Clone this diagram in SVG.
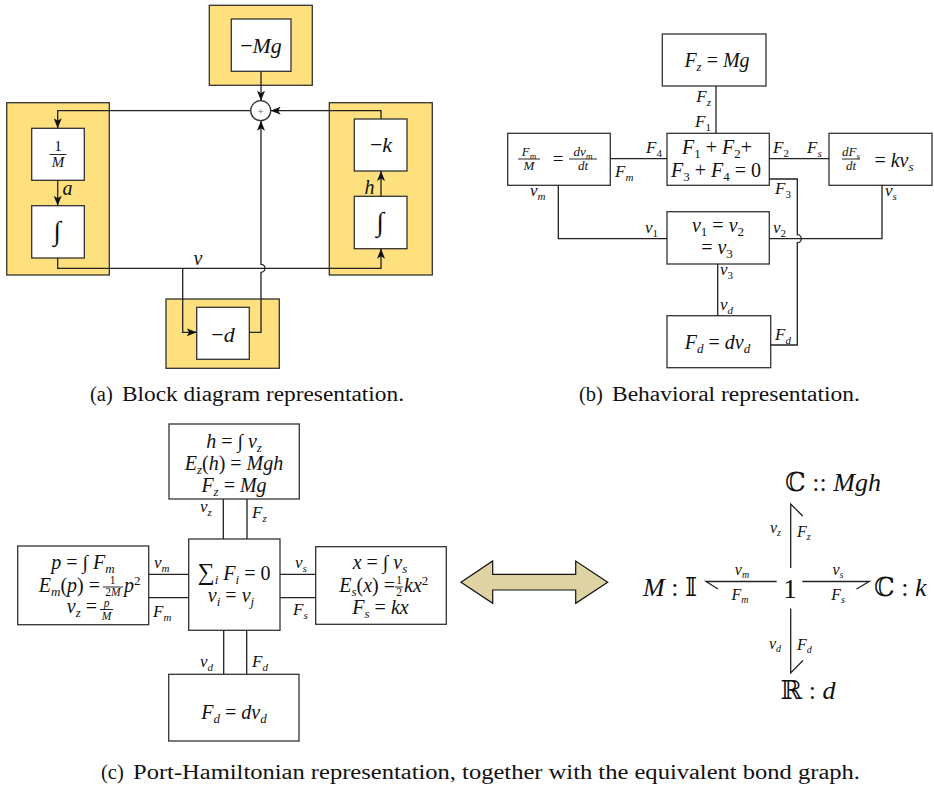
<svg xmlns="http://www.w3.org/2000/svg" width="934" height="791" viewBox="0 0 934 791" font-family="'Liberation Serif', 'DejaVu Serif', serif">
<defs>
<style>
.yel{fill:#FFE07E;stroke:#333;stroke-width:1.3}
.box{fill:#fff;stroke:#333;stroke-width:1.3}
.ln{fill:none;stroke:#222;stroke-width:1.3}
text{font-family:"Liberation Serif","DejaVu Serif",serif;fill:#111}
.m{font-style:italic}
.u{font-style:normal}
.bb{font-family:"DejaVu Serif","DejaVu Sans",serif;font-style:normal;font-weight:normal}
.f20{font-size:20px}
.f17{font-size:17px}
.cap{font-family:"Liberation Serif",serif;font-size:20.5px}
.fl{stroke:#111;stroke-width:0.9}
</style>
<marker id="ah" viewBox="0 0 10 8" refX="10" refY="4" markerWidth="10" markerHeight="8" markerUnits="userSpaceOnUse" orient="auto">
<path d="M0,0 L10,4 L0,8 L2.5,4 Z" fill="#111"/>
</marker>
</defs>
<rect x="0" y="0" width="934" height="791" fill="#fff"/>

<!-- (a) Block diagram -->
<g id="a-mg">
<rect class="yel" x="209.3" y="5.3" width="103" height="80"/>
<rect class="box" x="231.3" y="19" width="59.7" height="52.3"/>
<text x="261" y="52.5" text-anchor="middle" font-size="22" class="m"><tspan class="u">−</tspan>Mg</text>
</g>
<g id="a-sum">
<circle cx="260.7" cy="110.7" r="10" class="box"/>
<text x="260.7" y="114.6" font-size="11" text-anchor="middle" style="fill:#666">+</text>
</g>
<g id="a-left">
<rect class="yel" x="6.7" y="102.7" width="102.6" height="172.3"/>
<g id="a-invM">
<rect class="box" x="31.7" y="128.3" width="52.6" height="52"/>
<text x="58" y="150.5" font-size="15" text-anchor="middle">1</text>
<line x1="49.5" y1="154.5" x2="66.5" y2="154.5" class="fl"/>
<text x="58" y="167" font-size="15" text-anchor="middle" class="m">M</text>
</g>
<g id="a-int1">
<rect class="box" x="31.7" y="205.7" width="52.6" height="52.3"/>
<text x="57" y="240" font-size="27" text-anchor="middle">∫</text>
</g>
</g>
<g id="a-right">
<rect class="yel" x="329.3" y="102.7" width="103" height="172.3"/>
<g id="a-k">
<rect class="box" x="354.3" y="119" width="52.7" height="52"/>
<text x="381" y="152" font-size="22" text-anchor="middle" class="m"><tspan class="u">−</tspan>k</text>
</g>
<g id="a-int2">
<rect class="box" x="354.3" y="196.3" width="52.7" height="52.4"/>
<text x="380" y="231" font-size="27" text-anchor="middle">∫</text>
</g>
</g>
<g id="a-d">
<rect class="yel" x="166" y="299" width="113.3" height="69.3"/>
<rect class="box" x="196.7" y="307.3" width="52.6" height="52"/>
<text x="223" y="342" font-size="22" text-anchor="middle" class="m"><tspan class="u">−</tspan>d</text>
</g>
<g id="a-connectors" class="ln">
<path d="M261,71.3 V100.7" marker-end="url(#ah)"/>
<path d="M250.7,110.7 H57.7 V128.3" marker-end="url(#ah)"/>
<path d="M57.7,180.3 V205.7" marker-end="url(#ah)"/>
<path d="M57.7,258 V268.3 H381 V248.7" marker-end="url(#ah)"/>
<path d="M381,196.3 V171" marker-end="url(#ah)"/>
<path d="M381,119 V110.7 H270.7" marker-end="url(#ah)"/>
<path d="M182.7,268.3 V332.3 H196.7" marker-end="url(#ah)"/>
<path d="M249.3,332.3 H261 V272.3 A4,4 0 0 0 261,264.3 V120.7" marker-end="url(#ah)"/>
</g>
<g id="a-labels" font-size="20" class="m">
<text x="62.5" y="194.5" class="m">a</text>
<text x="364.5" y="193.5" class="m">h</text>
<text x="193.5" y="265" class="m">v</text>
</g>
<g id="cap-a" class="cap">
<text x="90" y="401">(a)</text>
<text x="122" y="401" textLength="282" lengthAdjust="spacingAndGlyphs">Block diagram representation.</text>
</g>

<!-- (b) Behavioral -->
<g id="b-fz">
<rect class="box" x="662.3" y="34" width="103.7" height="52"/>
<text x="717" y="67" text-anchor="middle" class="m f20">F<tspan font-size="13" baseline-shift="-4">z</tspan> <tspan class="u">=</tspan> Mg</text>
</g>
<g id="b-sum">
<rect class="box" x="667" y="133.3" width="102.3" height="52"/>
<text x="717" y="153.5" text-anchor="middle" class="m f20">F<tspan class="u" font-size="13" baseline-shift="-4">1</tspan><tspan class="u"> + </tspan>F<tspan class="u" font-size="13" baseline-shift="-4">2</tspan><tspan class="u">+</tspan></text>
<text x="716" y="177" text-anchor="middle" class="m f20">F<tspan class="u" font-size="13" baseline-shift="-4">3</tspan><tspan class="u"> + </tspan>F<tspan class="u" font-size="13" baseline-shift="-4">4</tspan><tspan class="u"> = 0</tspan></text>
</g>
<g id="b-mass">
<rect class="box" x="507.7" y="133.3" width="102.6" height="52"/>
<text x="529" y="155.5" text-anchor="middle" class="m" font-size="13">F<tspan font-size="9" baseline-shift="-3">m</tspan></text>
<line x1="518" y1="159" x2="540" y2="159" class="fl"/>
<text x="529" y="170" text-anchor="middle" class="m" font-size="13">M</text>
<text x="558" y="165" text-anchor="middle" font-size="19">=</text>
<text x="583" y="155.5" text-anchor="middle" class="m" font-size="13">dv<tspan font-size="9" baseline-shift="-3">m</tspan></text>
<line x1="569" y1="159" x2="597" y2="159" class="fl"/>
<text x="583" y="170" text-anchor="middle" class="m" font-size="13">dt</text>
</g>
<g id="b-spring">
<rect class="box" x="829" y="133.3" width="103" height="52"/>
<text x="851" y="155.5" text-anchor="middle" class="m" font-size="13">dF<tspan font-size="9" baseline-shift="-3">s</tspan></text>
<line x1="842" y1="159" x2="860" y2="159" class="fl"/>
<text x="851" y="170" text-anchor="middle" class="m" font-size="13">dt</text>
<text x="894" y="166.5" text-anchor="middle" class="m f20"><tspan class="u">=</tspan> kv<tspan font-size="13" baseline-shift="-4">s</tspan></text>
</g>
<g id="b-vel">
<rect class="box" x="667" y="211.7" width="102.3" height="52.3"/>
<text x="718" y="232" text-anchor="middle" class="m f20">v<tspan class="u" font-size="13" baseline-shift="-4">1</tspan><tspan class="u"> = </tspan>v<tspan class="u" font-size="13" baseline-shift="-4">2</tspan></text>
<text x="717" y="254" text-anchor="middle" class="m f20"><tspan class="u">= </tspan>v<tspan class="u" font-size="13" baseline-shift="-4">3</tspan></text>
</g>
<g id="b-damper">
<rect class="box" x="667" y="315.7" width="103.7" height="52"/>
<text x="717.5" y="348.5" text-anchor="middle" class="m f20">F<tspan font-size="13" baseline-shift="-4">d</tspan><tspan class="u"> = </tspan>dv<tspan font-size="13" baseline-shift="-4">d</tspan></text>
</g>
<g id="b-connectors" class="ln">
<path d="M716,86 V133.3"/>
<path d="M610.3,158.7 H667"/>
<path d="M769.3,158.7 H829"/>
<path d="M769.3,179 H797.3 V234.7 A4,4 0 0 1 797.3,242.7 V345 H770.7"/>
<path d="M558.3,185.3 V238.7 H667"/>
<path d="M882,185.3 V238.7 H769.3"/>
<path d="M717.7,264 V315.7"/>
</g>
<g id="b-labels" class="m f17">
<text x="711" y="102" text-anchor="end">F<tspan font-size="11" baseline-shift="-4">z</tspan></text>
<text x="711" y="126.5" text-anchor="end">F<tspan class="u" font-size="11" baseline-shift="-4">1</tspan></text>
<text x="662" y="153.3" text-anchor="end">F<tspan class="u" font-size="11" baseline-shift="-4">4</tspan></text>
<text x="615" y="176.7">F<tspan font-size="11" baseline-shift="-4">m</tspan></text>
<text x="773" y="153.3">F<tspan class="u" font-size="11" baseline-shift="-4">2</tspan></text>
<text x="807" y="153.3">F<tspan font-size="11" baseline-shift="-4">s</tspan></text>
<text x="775" y="193.5">F<tspan class="u" font-size="11" baseline-shift="-4">3</tspan></text>
<text x="530" y="196">v<tspan font-size="11" baseline-shift="-4">m</tspan></text>
<text x="885" y="196">v<tspan font-size="11" baseline-shift="-4">s</tspan></text>
<text x="645" y="232.5">v<tspan class="u" font-size="11" baseline-shift="-4">1</tspan></text>
<text x="773" y="232.5">v<tspan class="u" font-size="11" baseline-shift="-4">2</tspan></text>
<text x="720" y="275">v<tspan class="u" font-size="11" baseline-shift="-4">3</tspan></text>
<text x="720" y="310">v<tspan font-size="11" baseline-shift="-4">d</tspan></text>
<text x="775" y="340">F<tspan font-size="11" baseline-shift="-4">d</tspan></text>
</g>
<g id="cap-b" class="cap">
<text x="579" y="401">(b)</text>
<text x="612" y="401" textLength="248" lengthAdjust="spacingAndGlyphs">Behavioral representation.</text>
</g>

<!-- (c) Port-Hamiltonian -->
<g id="c-top">
<rect class="box" x="169" y="424" width="130.3" height="75"/>
<text x="234" y="448" text-anchor="middle" class="m f20">h <tspan class="u">=</tspan> <tspan class="u">∫</tspan> v<tspan font-size="13" baseline-shift="-4">z</tspan></text>
<text x="234" y="470" text-anchor="middle" class="m f20">E<tspan font-size="13" baseline-shift="-4">z</tspan><tspan class="u">(</tspan>h<tspan class="u">) = </tspan>Mgh</text>
<text x="234" y="492" text-anchor="middle" class="m f20">F<tspan font-size="13" baseline-shift="-4">z</tspan><tspan class="u"> = </tspan>Mg</text>
</g>
<g id="c-center">
<rect class="box" x="188.7" y="539" width="91.3" height="91.3"/>
<text x="234" y="580" text-anchor="middle" class="m f20"><tspan class="u" font-size="24">∑</tspan><tspan font-size="13" baseline-shift="-4">i</tspan> F<tspan font-size="13" baseline-shift="-4">i</tspan><tspan class="u"> = 0</tspan></text>
<text x="231" y="602" text-anchor="middle" class="m f20">v<tspan font-size="13" baseline-shift="-4">i</tspan><tspan class="u"> = </tspan>v<tspan font-size="13" baseline-shift="-4">j</tspan></text>
</g>
<g id="c-left">
<rect class="box" x="17.7" y="546" width="131" height="78.7"/>
<text x="83" y="569" text-anchor="middle" class="m f20">p <tspan class="u">=</tspan> <tspan class="u">∫</tspan> F<tspan font-size="13" baseline-shift="-4">m</tspan></text>
<text x="100" y="591.5" text-anchor="end" class="m f20">E<tspan font-size="13" baseline-shift="-4">m</tspan><tspan class="u">(</tspan>p<tspan class="u">) =</tspan></text>
<text x="112.5" y="583.5" text-anchor="middle" font-size="11.5">1</text>
<line x1="103" y1="587" x2="123" y2="587" class="fl"/>
<text x="113" y="596" text-anchor="middle" font-size="11.5" class="m"><tspan class="u">2</tspan>M</text>
<text x="124" y="591.5" class="m f20">p<tspan class="u" font-size="13" baseline-shift="7">2</tspan></text>
<text x="97" y="613" text-anchor="end" class="m f20">v<tspan font-size="13" baseline-shift="-4">z</tspan><tspan class="u"> =</tspan></text>
<text x="106.5" y="606.5" text-anchor="middle" font-size="11.5" class="m">p</text>
<line x1="100" y1="609.5" x2="113" y2="609.5" class="fl"/>
<text x="106.5" y="620" text-anchor="middle" font-size="11.5" class="m">M</text>
</g>
<g id="c-right">
<rect class="box" x="315.7" y="546.7" width="130.6" height="77.6"/>
<text x="380" y="569" text-anchor="middle" class="m f20">x <tspan class="u">=</tspan> <tspan class="u">∫</tspan> v<tspan font-size="13" baseline-shift="-4">s</tspan></text>
<text x="395" y="591.5" text-anchor="end" class="m f20">E<tspan font-size="13" baseline-shift="-4">s</tspan><tspan class="u">(</tspan>x<tspan class="u">) =</tspan></text>
<text x="399" y="583.5" text-anchor="middle" font-size="11.5">1</text>
<line x1="395" y1="587" x2="403" y2="587" class="fl"/>
<text x="399" y="596" text-anchor="middle" font-size="11.5">2</text>
<text x="404" y="591.5" class="m f20">kx<tspan class="u" font-size="13" baseline-shift="7">2</tspan></text>
<text x="380.5" y="614" text-anchor="middle" class="m f20">F<tspan font-size="13" baseline-shift="-4">s</tspan><tspan class="u"> = </tspan>kx</text>
</g>
<g id="c-bottom">
<rect class="box" x="168.7" y="674.3" width="130.3" height="66.7"/>
<text x="234" y="718.5" text-anchor="middle" class="m f20">F<tspan font-size="13" baseline-shift="-4">d</tspan><tspan class="u"> = </tspan>dv<tspan font-size="13" baseline-shift="-4">d</tspan></text>
</g>
<g id="c-connectors" class="ln">
<path d="M223.3,499 V539 M247,499 V539"/>
<path d="M148.7,574.3 H188.7 M148.7,597.7 H188.7"/>
<path d="M280,574.3 H315.7 M280,597.7 H315.7"/>
<path d="M223.7,630.3 V674.3 M246.7,630.3 V674.3"/>
</g>
<g id="c-labels" class="m f17">
<text x="200" y="512">v<tspan font-size="11" baseline-shift="-4">z</tspan></text>
<text x="252" y="518">F<tspan font-size="11" baseline-shift="-4">z</tspan></text>
<text x="154" y="568">v<tspan font-size="11" baseline-shift="-4">m</tspan></text>
<text x="153" y="616.5">F<tspan font-size="11" baseline-shift="-4">m</tspan></text>
<text x="295" y="567.5">v<tspan font-size="11" baseline-shift="-4">s</tspan></text>
<text x="293" y="614.5">F<tspan font-size="11" baseline-shift="-4">s</tspan></text>
<text x="200" y="666.5">v<tspan font-size="11" baseline-shift="-4">d</tspan></text>
<text x="252" y="666.5">F<tspan font-size="11" baseline-shift="-4">d</tspan></text>
</g>

<g id="equiv-arrow">
<path d="M461,582.3 L492.7,561 L492.7,574.3 L575.7,574.3 L575.7,561 L607.7,582.3 L575.7,603.3 L575.7,590 L492.7,590 L492.7,603.3 Z" fill="#E0D3A3" stroke="#111" stroke-width="1.2"/>
</g>

<!-- bond graph -->
<g id="bg-C-top"><text x="833" y="491" text-anchor="middle" font-size="26" class="m"><tspan class="bb">ℂ</tspan><tspan class="u"> :: </tspan>Mgh</text></g>
<g id="bg-I"><text x="643" y="596" font-size="26" class="m">M<tspan class="u"> : </tspan><tspan class="bb">𝕀</tspan></text></g>
<g id="bg-one"><text x="790" y="598" text-anchor="middle" font-size="27">1</text></g>
<g id="bg-C-right"><text x="874" y="596" font-size="26" class="m"><tspan class="bb">ℂ</tspan><tspan class="u"> : </tspan>k</text></g>
<g id="bg-R"><text x="808" y="699" text-anchor="middle" font-size="26" class="m"><tspan class="bb">ℝ</tspan><tspan class="u"> : </tspan>d</text></g>
<g id="bg-bonds" class="ln">
<path d="M790.7,568 V504 L802.7,516"/>
<path d="M776.7,581.5 H706 L718,589"/>
<path d="M802.3,581.5 H869.3 L856.5,589"/>
<path d="M790.7,608.5 V673 L803,660.5"/>
</g>
<g id="bg-labels" class="m" font-size="16">
<text x="781" y="533" text-anchor="end">v<tspan font-size="10" baseline-shift="-3">z</tspan></text>
<text x="797" y="537">F<tspan font-size="10" baseline-shift="-3">z</tspan></text>
<text x="742" y="575" text-anchor="middle">v<tspan font-size="10" baseline-shift="-3">m</tspan></text>
<text x="740" y="600" text-anchor="middle">F<tspan font-size="10" baseline-shift="-3">m</tspan></text>
<text x="838" y="575" text-anchor="middle">v<tspan font-size="10" baseline-shift="-3">s</tspan></text>
<text x="838" y="600" text-anchor="middle">F<tspan font-size="10" baseline-shift="-3">s</tspan></text>
<text x="781" y="648.5" text-anchor="end">v<tspan font-size="10" baseline-shift="-3">d</tspan></text>
<text x="797" y="650">F<tspan font-size="10" baseline-shift="-3">d</tspan></text>
</g>
<g id="cap-c" class="cap">
<text x="101" y="779">(c)</text>
<text x="133" y="779" textLength="727" lengthAdjust="spacingAndGlyphs">Port-Hamiltonian representation, together with the equivalent bond graph.</text>
</g>
</svg>
